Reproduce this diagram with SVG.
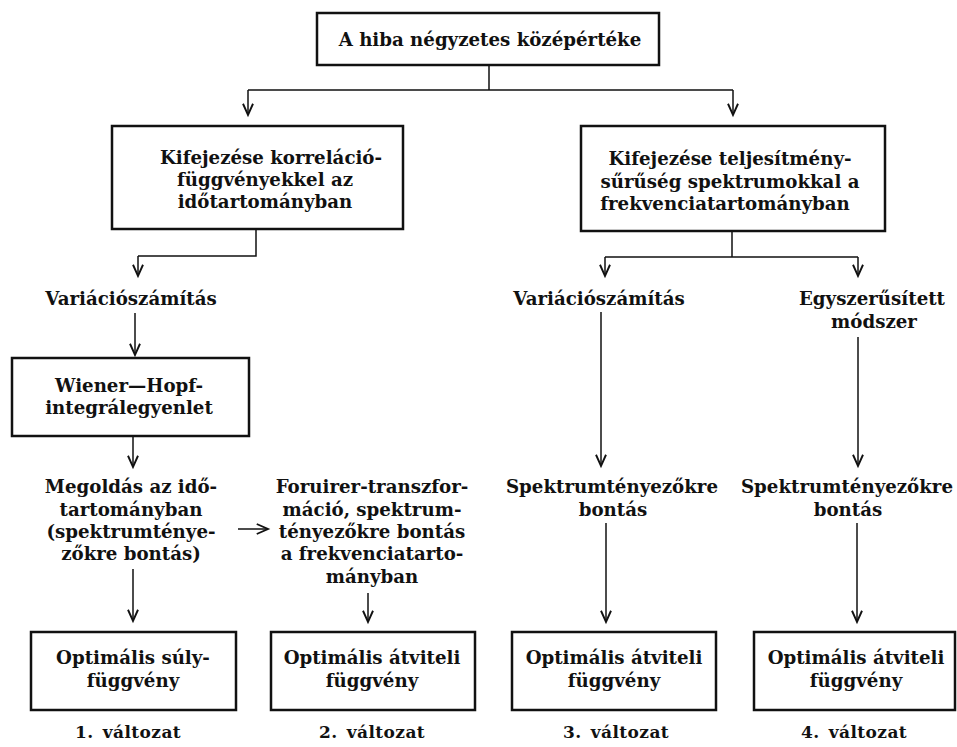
<svg xmlns="http://www.w3.org/2000/svg" width="957" height="747" viewBox="0 0 957 747">
<defs>
<marker id="ah" markerUnits="userSpaceOnUse" markerWidth="20" markerHeight="20" refX="0" refY="0" viewBox="-12 -8 16 16" orient="auto" overflow="visible">
<path d="M-9,-4 L0,0 L-9,4" fill="none" stroke="#111" stroke-width="1.5"/>
</marker>
<style>
.box{fill:#fff;stroke:#111;stroke-width:2.5}
.t{font-family:"DejaVu Serif","Liberation Serif",serif;font-weight:bold;font-size:18.2px;fill:#111;text-anchor:middle}
.lbl{font-family:"DejaVu Serif","Liberation Serif",serif;font-weight:bold;font-size:17px;fill:#111;text-anchor:middle;letter-spacing:0.4px;word-spacing:3px}
.c{fill:none;stroke:#111;stroke-width:1.5}
.a{fill:none;stroke:#111;stroke-width:1.5;marker-end:url(#ah)}
</style>
</defs>
<rect width="957" height="747" fill="#fff"/>
<g id="connectors">
<path class="c" d="M489,65 V90 M248,90 H733"/>
<path class="a" d="M248,90 V115"/>
<path class="a" d="M733,90 V115"/>
<path class="c" d="M256,229 V256 H138"/>
<path class="a" d="M138,256 V276"/>
<path class="c" d="M732,231 V257 M605,257 H858"/>
<path class="a" d="M605,257 V276"/>
<path class="a" d="M858,257 V276"/>
<path class="a" d="M135,313 V355"/>
<path class="a" d="M133,436 V467"/>
<path class="a" d="M133,569 V621"/>
<path class="a" d="M238,529 H268"/>
<path class="a" d="M368,593 V622"/>
<path class="a" d="M601,312 V466"/>
<path class="a" d="M858,337 V466"/>
<path class="a" d="M606,523 V622"/>
<path class="a" d="M857,523 V622"/>
</g>
<g id="n-top">
<rect class="box" x="317" y="13" width="342" height="52"/>
<text class="t" x="490" y="46">A hiba négyzetes középértéke</text>
</g>
<g id="n-corr">
<rect class="box" x="112" y="126" width="291" height="103"/>
<text class="t" x="271" y="164">Kifejezése korreláció-</text>
<text class="t" x="265" y="186">függvényekkel az</text>
<text class="t" x="265" y="208">időtartományban</text>
</g>
<g id="n-spec">
<rect class="box" x="581" y="126" width="304" height="105"/>
<text class="t" x="730" y="165">Kifejezése  teljesítmény-</text>
<text class="t" x="730" y="188">sűrűség spektrumokkal a</text>
<text class="t" x="725" y="210">frekvenciatartományban</text>
</g>
<g id="n-var1">
<text class="t" x="131" y="305">Variációszámítás</text>
</g>
<g id="n-var2">
<text class="t" x="599" y="305">Variációszámítás</text>
</g>
<g id="n-egy">
<text class="t" x="872" y="305">Egyszerűsített</text>
<text class="t" x="874" y="328">módszer</text>
</g>
<g id="n-wiener">
<rect class="box" x="12" y="358" width="237" height="78"/>
<text class="t" x="129" y="392">Wiener—Hopf-</text>
<text class="t" x="129" y="414">integrálegyenlet</text>
</g>
<g id="n-megold">
<text class="t" x="131" y="493">Megoldás az idő-</text>
<text class="t" x="131" y="516">tartományban</text>
<text class="t" x="131" y="538">(spektrumténye-</text>
<text class="t" x="131" y="560">zőkre bontás)</text>
</g>
<g id="n-fourier">
<text class="t" x="372" y="493">Foruirer-transzfor-</text>
<text class="t" x="372" y="516">máció, spektrum-</text>
<text class="t" x="372" y="538">tényezőkre bontás</text>
<text class="t" x="372" y="560">a frekvenciatarto-</text>
<text class="t" x="372" y="583">mányban</text>
</g>
<g id="n-spek3">
<text class="t" x="612" y="493">Spektrumtényezőkre</text>
<text class="t" x="613" y="516">bontás</text>
</g>
<g id="n-spek4">
<text class="t" x="847" y="493">Spektrumtényezőkre</text>
<text class="t" x="848" y="516">bontás</text>
</g>
<g id="n-opt1">
<rect class="box" x="31" y="632" width="205" height="78"/>
<text class="t" x="133" y="664">Optimális súly-</text>
<text class="t" x="133" y="687">függvény</text>
</g>
<g id="n-opt2">
<rect class="box" x="271" y="632" width="204" height="78"/>
<text class="t" x="372" y="664">Optimális átviteli</text>
<text class="t" x="372" y="687">függvény</text>
</g>
<g id="n-opt3">
<rect class="box" x="512" y="632" width="204" height="78"/>
<text class="t" x="614" y="664">Optimális átviteli</text>
<text class="t" x="614" y="687">függvény</text>
</g>
<g id="n-opt4">
<rect class="box" x="754" y="632" width="201" height="78"/>
<text class="t" x="856" y="664">Optimális átviteli</text>
<text class="t" x="856" y="687">függvény</text>
</g>
<g id="labels">
<text class="lbl" x="128" y="738">1. változat</text>
<text class="lbl" x="372" y="738">2. változat</text>
<text class="lbl" x="616" y="738">3. változat</text>
<text class="lbl" x="854" y="738">4. változat</text>
</g>
</svg>
